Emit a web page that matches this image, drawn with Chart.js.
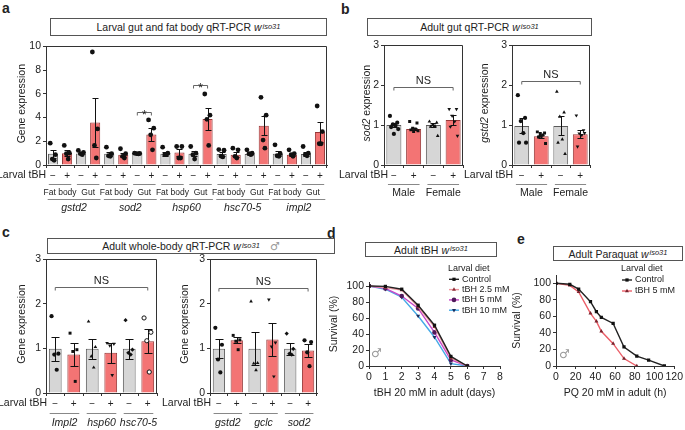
<!DOCTYPE html>
<html>
<head>
<meta charset="utf-8">
<script src="https://cdn.jsdelivr.net/npm/chart.js@4.4.1/dist/chart.umd.min.js"></script>
<style>
  body { margin: 0; background: #fff; }
  #fig { position: relative; width: 685px; height: 430px; overflow: hidden;
         font-family: "Liberation Sans", Arial, sans-serif; color: #222; }
  #fig canvas { position: absolute; }
  .lab { position: absolute; font-weight: bold; font-size: 14px; line-height: 14px; }
  .tbox { position: absolute; box-sizing: border-box; border: 1px solid #555; font-size: 10.5px;
          display: flex; align-items: center; justify-content: center; white-space: nowrap; }
  .tbox sup { font-size: 7.5px; font-style: italic; position: relative; top: -1px; margin-left: 1px; }
  .male { position: absolute; color: #999; font-family: "DejaVu Sans"; font-size: 12px; line-height: 12px; }
</style>
</head>
<body>
<div id="fig">
  <div class="lab" style="left:2px;top:1px">a</div>
  <div class="lab" style="left:341px;top:2px">b</div>
  <div class="lab" style="left:2px;top:225px">c</div>
  <div class="lab" style="left:327px;top:226px">d</div>
  <div class="lab" style="left:517px;top:232px">e</div>

  <div class="tbox" style="left:50px;top:18px;width:277px;height:18px">Larval gut and fat body qRT-PCR&nbsp;<i>w</i><sup>iso31</sup></div>
  <div class="tbox" style="left:367px;top:18px;width:225px;height:18px">Adult gut qRT-PCR&nbsp;<i>w</i><sup>iso31</sup></div>
  <div class="tbox" style="left:47px;top:238px;width:288px;height:16px">Adult whole-body qRT-PCR&nbsp;<i>w</i><sup>iso31</sup><span style="color:#999;font-family:'DejaVu Sans';font-size:11px;margin-left:10px">♂</span></div>
  <div class="tbox" style="left:365px;top:242px;width:132px;height:15px">Adult tBH&nbsp;<i>w</i><sup>iso31</sup></div>
  <div class="tbox" style="left:553px;top:246px;width:130px;height:15px">Adult Paraquat&nbsp;<i>w</i><sup>iso31</sup></div>

  <canvas id="ca" width="335" height="178" style="left:0;top:38px"></canvas>
  <canvas id="cb1" width="135" height="170" style="left:332px;top:37px"></canvas>
  <canvas id="cb2" width="140" height="170" style="left:455px;top:37px"></canvas>
  <canvas id="cc1" width="165" height="180" style="left:0;top:250px"></canvas>
  <canvas id="cc2" width="170" height="180" style="left:155px;top:250px"></canvas>
  <canvas id="ce" width="180" height="140" style="left:505px;top:262px"></canvas>
  <canvas id="cd" width="200" height="140" style="left:322px;top:262px"></canvas>

  <div class="male" style="left:371px;top:347px">♂</div>
  <div class="male" style="left:559px;top:348px">♂</div>
</div>

<script>
// ---------- panel a: larval gut / fat body ----------
const aGenes = ['gstd2', 'sod2', 'hsp60', 'hsc70-5', 'impl2'];
const aTissues = ['Fat body', 'Gut'];
const aTbh = ['−', '+', '−', '+', '−', '+', '−', '+', '−', '+', '−', '+', '−', '+', '−', '+', '−', '+', '−', '+'];
const aMeans = [0.95, 1.0, 0.97, 3.58, 0.95, 0.87, 0.97, 2.57, 0.95, 1.06, 0.95, 3.88, 0.92, 0.87, 0.92, 3.3, 0.95, 0.87, 0.92, 2.77];
const aSem = [0.33, 0.25, 0.06, 2.1, 0.18, 0.17, 0.03, 0.52, 0.16, 0.27, 0.2, 0.93, 0.16, 0.2, 0.08, 0.8, 0.2, 0.12, 0.17, 0.85];
const aDots = [
  [1.84, 0.87, 0.5, 0.4], [1.65, 1.0, 0.95, 0.5], [1.23, 1.06, 0.95, 0.87], [9.52, 3.04, 1.65, 0.59],
  [1.5, 0.95, 0.78, 0.73], [1.37, 0.95, 0.73, 0.59], [1.0, 0.97, 0.95, 0.93], [3.8, 3.1, 2.54, 1.28],
  [1.5, 1.0, 0.87, 0.87], [1.56, 1.56, 0.59, 0.59], [1.56, 1.0, 0.87, 0.5], [5.98, 4.2, 3.85, 1.65],
  [1.3, 1.25, 0.75, 0.68], [1.42, 1.28, 0.73, 0.59], [1.28, 1.0, 0.95, 0.87], [5.7, 4.2, 2.1, 1.42],
  [1.7, 0.95, 0.78, 0.73], [1.28, 0.95, 0.87, 0.73], [1.56, 1.0, 0.87, 0.78], [4.97, 2.82, 1.79, 1.79]
];

// ---------- panel b: adult gut ----------
const bSexes = ['Male', 'Female'];
const bTbh = ['−', '+', '−', '+'];
const bSod2Means = [1.0, 0.9, 1.0, 1.13];
const bSod2Sem = [0.06, 0.03, 0.05, 0.12];
const bSod2Dots = [
  [1.23, 1.06, 1.02, 0.98, 0.95, 0.9, 0.78],
  [1.09, 1.05, 0.92, 0.9, 0.88, 0.86, 0.84],
  [1.09, 1.06, 1.0, 0.98, 0.96, 0.73],
  [1.4, 1.4, 1.23, 1.09, 0.96, 0.73]
];
const bGstd2Means = [0.98, 0.72, 0.98, 0.77];
const bGstd2Sem = [0.19, 0.04, 0.24, 0.1];
const bGstd2Dots = [
  [1.75, 1.18, 1.1, 0.8, 0.56, 0.56],
  [0.83, 0.8, 0.79, 0.75, 0.7, 0.54, 0.72],
  [1.84, 1.32, 1.21, 0.64, 0.56, 0.28],
  [1.24, 0.87, 0.79, 0.75, 0.46, 0.8]
];

// ---------- panel c: adult whole body ----------
const cTbh = ['−', '+', '−', '+', '−', '+'];
const c1Genes = ['Impl2', 'hsp60', 'hsc70-5'];
const c1Means = [0.99, 0.86, 0.99, 0.9, 0.99, 1.16];
const c1Sem = [0.27, 0.25, 0.23, 0.22, 0.23, 0.27];
const c1Dots = [
  [1.72, 0.88, 0.86, 0.52], [1.34, 0.97, 0.93, 0.26], [1.6, 1.03, 0.82, 0.57],
  [1.12, 1.1, 1.06, 0.4], [1.63, 0.97, 0.9, 0.86], [1.68, 1.36, 1.17, 0.47]
];
const c2Genes = ['gstd2', 'gclc', 'sod2'];
const c2Means = [0.99, 1.18, 0.99, 1.2, 0.99, 0.95];
const c2Sem = [0.21, 0.07, 0.37, 0.37, 0.13, 0.15];
const c2Dots = [
  [1.46, 1.08, 0.75, 0.46], [1.29, 1.19, 1.16, 0.97], [2.05, 0.67, 0.66, 0.51],
  [2.09, 1.13, 1.04, 0.37], [1.33, 0.99, 0.88, 0.86], [1.18, 1.14, 0.91, 0.6]
];

// ---------- panel d: adult tBH survival ----------
const dDays = [0, 1, 2, 3, 4, 5, 6];
const dControl = [100, 99.5, 96, 76, 51, 12, 0];
const dTbh25 = [100, 98, 95, 74, 49, 10, 0];
const dTbh5 = [100, 97, 87.5, 72, 42, 7.5, 0];
const dTbh10 = [100, 96, 86, 62.5, 36, 3, 0];

// ---------- panel e: adult paraquat survival ----------
const eControlH = [0, 14, 23, 35, 41, 46, 58, 69, 82, 94, 110];
const eControl = [100, 98.8, 93, 77.7, 65.6, 58.7, 51.4, 23, 12, 7, 0];
const eTbhH = [0, 14, 23, 35, 41, 46, 58, 69, 82];
const eTbh5 = [100, 97.5, 89.5, 63.6, 54, 42, 27, 9, 0];

// ---------- common styling ----------
const FONT = '"Liberation Sans", Arial, sans-serif';
Chart.defaults.font.family = FONT;
Chart.defaults.font.size = 10.5;
Chart.defaults.color = '#222';

const GREY = 'rgb(214,214,214)', RED = 'rgb(243,116,116)';
const GREY_LINE = 'rgb(90,90,90)', RED_LINE = 'rgb(150,55,55)';
const AX = '#333';
const MARKS = [
  { style: 'circle' }, { style: 'rect' }, { style: 'triangle' },
  { style: 'triangle', rot: 180 }, { style: 'rectRot' }, { style: 'circle', open: true }
];
const jit = [-0.2, 0.17, -0.05, 0.08, -0.14, 0.22, 0.0]; // horizontal spread of dots inside a bar

function barPanel(id, p) {
  const n = p.labels.length;
  // bars and dots share one linear x axis (bar i sits at x = i)
  const datasets = [{
    type: 'bar', order: 2, grouped: false,
    data: p.means.map((m, i) => ({ x: i, y: m })),
    backgroundColor: p.labels.map(l => l === '+' ? RED : GREY),
    borderColor: p.labels.map(l => l === '+' ? RED_LINE : GREY_LINE),
    borderWidth: 1, barPercentage: p.barPct, categoryPercentage: 1
  }];
  p.dots.forEach((vals, i) => {
    const m = MARKS[p.marks ? p.marks[i] : 0];
    datasets.push({
      type: 'scatter', order: 1,
      data: vals.map((v, k) => ({ x: i + jit[k % jit.length] * p.spread, y: v })),
      pointStyle: m.style, pointRotation: m.rot || 0, pointRadius: p.r,
      pointBackgroundColor: m.open ? '#fff' : '#111', pointBorderColor: '#111',
      pointBorderWidth: m.open ? 1 : 0
    });
  });

  const deco = {
    id: 'deco',
    afterDatasetDraw(chart, args) {
      if (args.index !== 0) return;
      // error bars (mean ± sem)
      const { ctx, scales: { x, y } } = chart;
      ctx.save();
      ctx.strokeStyle = '#111';
      ctx.lineWidth = 1;
      ctx.beginPath();
      p.means.forEach((m, i) => {
        const cx = Math.round(x.getPixelForValue(i)) + 0.5;
        const t = Math.round(y.getPixelForValue(m + p.sem[i])) + 0.5;
        const b = Math.round(y.getPixelForValue(Math.max(m - p.sem[i], 0))) + 0.5;
        ctx.moveTo(cx, t); ctx.lineTo(cx, b);
        ctx.moveTo(cx - p.cap, t); ctx.lineTo(cx + p.cap, t);
        ctx.moveTo(cx - p.cap, b); ctx.lineTo(cx + p.cap, b);
      });
      ctx.stroke();
      ctx.restore();
    },
    afterDraw(chart) {
      const { ctx, chartArea: ca, scales: { x, y } } = chart;
      const step = x.getPixelForValue(1) - x.getPixelForValue(0);
      ctx.save();
      // top and right side of the frame
      const T = Math.round(ca.top) + 0.5, R = Math.round(ca.right) - 0.5;
      ctx.strokeStyle = AX;
      ctx.lineWidth = 1;
      ctx.beginPath();
      ctx.moveTo(ca.left, T); ctx.lineTo(R, T); ctx.lineTo(R, ca.bottom);
      ctx.stroke();
      // significance brackets
      p.brackets.forEach(br => {
        const x1 = x.getPixelForValue(br.a), x2 = x.getPixelForValue(br.b);
        const yy = Math.round(y.getPixelForValue(br.v)) + 0.5;
        ctx.strokeStyle = '#666';
        ctx.beginPath();
        ctx.moveTo(x1, yy + 3); ctx.lineTo(x1, yy); ctx.lineTo(x2, yy); ctx.lineTo(x2, yy + 3);
        ctx.stroke();
        ctx.fillStyle = '#222';
        ctx.font = br.size + 'px ' + FONT;
        ctx.textAlign = 'center';
        ctx.textBaseline = 'alphabetic';
        ctx.fillText(br.t, (x1 + x2) / 2, yy + br.dy);
      });
      // grouping rows under the x axis
      p.rows.forEach(row => {
        row.items.forEach(it => {
          const x1 = x.getPixelForValue(it.a) - row.w * step;
          const x2 = x.getPixelForValue(it.b) + row.w * step;
          const ly = Math.round(ca.bottom + row.dy) + 0.5;
          ctx.strokeStyle = '#888';
          ctx.beginPath(); ctx.moveTo(x1, ly); ctx.lineTo(x2, ly); ctx.stroke();
          ctx.fillStyle = '#222';
          ctx.font = (row.it ? 'italic ' : '') + row.size + 'px ' + FONT;
          ctx.textAlign = 'center';
          ctx.textBaseline = 'middle';
          ctx.fillText(it.t, (x1 + x2) / 2, ca.bottom + row.ty);
        });
      });
      // row title
      ctx.fillStyle = '#222';
      ctx.font = '10.5px ' + FONT;
      ctx.textAlign = 'right';
      ctx.textBaseline = 'top';
      ctx.fillText('Larval tBH', ca.left + p.tbhX, ca.bottom + 5);
      // y axis title (mixed italic / upright)
      ctx.translate(p.titleX, (ca.top + ca.bottom) / 2 - 2);
      ctx.rotate(-Math.PI / 2);
      let total = 0;
      p.yTitle.forEach(([t, it]) => {
        ctx.font = (it ? 'italic ' : '') + '10.5px ' + FONT;
        total += ctx.measureText(t).width;
      });
      let xx = -total / 2;
      ctx.textAlign = 'left';
      ctx.textBaseline = 'middle';
      p.yTitle.forEach(([t, it]) => {
        ctx.font = (it ? 'italic ' : '') + '10.5px ' + FONT;
        ctx.fillText(t, xx, 0);
        xx += ctx.measureText(t).width;
      });
      ctx.restore();
    }
  };

  return new Chart(document.getElementById(id), {
    type: 'bar',
    data: { datasets: datasets },
    options: {
      responsive: false,
      animation: false,
      devicePixelRatio: 1,
      layout: { padding: { left: 0, right: p.right, top: p.top, bottom: 0 } },
      plugins: { legend: { display: false }, tooltip: { enabled: false } },
      scales: {
        x: {
          type: 'linear', min: -0.5, max: n - 0.5, offset: false,
          afterBuildTicks: a => { a.ticks = p.labels.map((l, i) => ({ value: i })); },
          grid: { drawOnChartArea: false, tickLength: 3, color: AX },
          border: { color: AX },
          ticks: { padding: 2, autoSkip: false, maxRotation: 0, font: { size: 10 },
                   callback: v => p.labels[v] },
          afterFit: a => { a.height = p.bottom; }
        },
        y: {
          min: 0, max: p.yMax,
          ticks: { stepSize: p.yStep, padding: 2 },
          grid: { drawOnChartArea: false, tickLength: 3, color: AX },
          border: { color: AX },
          afterFit: a => { a.width = p.left; }
        }
      }
    },
    plugins: [deco]
  });
}

// panel a
const aPairs = [], aGeneItems = [];
aGenes.forEach((g, gi) => {
  aGeneItems.push({ a: gi * 4, b: gi * 4 + 3, t: g });
  aTissues.forEach((t, ti) => aPairs.push({ a: gi * 4 + ti * 2, b: gi * 4 + ti * 2 + 1, t: t }));
});
barPanel('ca', {
  labels: aTbh, means: aMeans, sem: aSem, dots: aDots,
  yMax: 10, yStep: 2, barPct: 0.72, r: 2.4, spread: 1, cap: 3,
  left: 46, right: 8, top: 8, bottom: 51, tbhX: 0, titleX: 22,
  yTitle: [['Gene expression', false]],
  brackets: [{ a: 6, b: 7, v: 4.5, t: '*', size: 12, dy: 6 }, { a: 10, b: 11, v: 6.7, t: '*', size: 12, dy: 6 }],
  rows: [
    { dy: 19, ty: 27.5, size: 8.5, w: 0.3, items: aPairs },
    { dy: 34, ty: 43, size: 10.5, it: true, w: 0.38, items: aGeneItems }
  ]
});

// panel b
const bItems = bSexes.map((s, i) => ({ a: i * 2, b: i * 2 + 1, t: s }));
barPanel('cb1', {
  labels: bTbh, means: bSod2Means, sem: bSod2Sem, dots: bSod2Dots, marks: [0, 1, 2, 3],
  yMax: 3, yStep: 1, barPct: 0.76, r: 2.1, spread: 1, cap: 3,
  left: 52, right: 4, top: 8, bottom: 42, tbhX: 4, titleX: 35,
  yTitle: [['sod2', true], [' expression', false]],
  brackets: [{ a: 0, b: 3, v: 1.95, t: 'NS', size: 11, dy: -4 }],
  rows: [{ dy: 19, ty: 28, size: 10.5, w: 0.3, items: bItems }]
});
barPanel('cb2', {
  labels: bTbh, means: bGstd2Means, sem: bGstd2Sem, dots: bGstd2Dots, marks: [0, 1, 2, 3],
  yMax: 3, yStep: 1, barPct: 0.76, r: 2.1, spread: 1, cap: 3,
  left: 57, right: 5, top: 8, bottom: 42, tbhX: 1, titleX: 30,
  yTitle: [['gstd2', true], [' expression', false]],
  brackets: [{ a: 0, b: 3, v: 2.1, t: 'NS', size: 11, dy: -4 }],
  rows: [{ dy: 19, ty: 28, size: 10.5, w: 0.3, items: bItems }]
});

// panel c
barPanel('cc1', {
  labels: cTbh, means: c1Means, sem: c1Sem, dots: c1Dots, marks: [0, 1, 2, 3, 4, 5],
  yMax: 3, yStep: 1, barPct: 0.69, r: 2.1, spread: 1, cap: 4,
  left: 46, right: 8, top: 9, bottom: 37, tbhX: 1, titleX: 22,
  yTitle: [['Gene expression', false]],
  brackets: [{ a: 0, b: 5, v: 2.37, t: 'NS', size: 11, dy: -4 }],
  rows: [{ dy: 20, ty: 30, size: 10.5, it: true, w: 0.3, items: c1Genes.map((g, i) => ({ a: i * 2, b: i * 2 + 1, t: g })) }]
});
barPanel('cc2', {
  labels: cTbh, means: c2Means, sem: c2Sem, dots: c2Dots, marks: [0, 1, 2, 3, 4, 0],
  yMax: 3, yStep: 1, barPct: 0.69, r: 2.1, spread: 1, cap: 4,
  left: 55, right: 8, top: 9, bottom: 37, tbhX: 1, titleX: 30,
  yTitle: [['Gene expression', false]],
  brackets: [{ a: 0, b: 5, v: 2.34, t: 'NS', size: 11, dy: -4 }],
  rows: [{ dy: 20, ty: 30, size: 10.5, it: true, w: 0.3, items: c2Genes.map((g, i) => ({ a: i * 2, b: i * 2 + 1, t: g })) }]
});

// ---------- survival curves ----------
function series(label, xs, ys, line, mark, style, rot) {
  return {
    label: label,
    data: xs.map((x, i) => ({ x: x, y: ys[i] })),
    borderColor: line, borderWidth: 1.4, tension: 0,
    pointStyle: style, pointRotation: rot || 0, pointRadius: 2.3,
    pointBackgroundColor: mark, pointBorderWidth: 0
  };
}

function legendPlugin(lx, ly, rowH) {
  return {
    id: 'leg',
    afterDraw(chart) {
      const ctx = chart.ctx;
      ctx.save();
      ctx.font = '9px ' + FONT;
      ctx.fillStyle = '#222';
      ctx.textAlign = 'left';
      ctx.textBaseline = 'middle';
      ctx.fillText('Larval diet', lx - 1, ly);
      chart.data.datasets.forEach((d, i) => {
        const yy = ly + rowH * (i + 1);
        ctx.strokeStyle = d.borderColor;
        ctx.lineWidth = d.borderWidth;
        ctx.beginPath(); ctx.moveTo(lx, yy); ctx.lineTo(lx + 10, yy); ctx.stroke();
        ctx.fillStyle = d.pointBackgroundColor;
        Chart.helpers.drawPoint(ctx, { pointStyle: d.pointStyle, radius: d.pointRadius, rotation: d.pointRotation, borderWidth: 0 }, lx + 5, yy);
        ctx.fillStyle = '#222';
        ctx.fillText(d.label, lx + 13, yy);
      });
      ctx.restore();
    }
  };
}

function survivalOptions(xMax, xStep, yMax, xTitle, top, left, right) {
  return {
    responsive: false,
    animation: false,
    devicePixelRatio: 1,
    layout: { padding: { left: 0, right: right, top: top, bottom: 0 } },
    plugins: { legend: { display: false }, tooltip: { enabled: false } },
    scales: {
      x: {
        type: 'linear', min: 0, max: xMax,
        ticks: { stepSize: xStep, padding: 2, autoSkip: false, maxRotation: 0 },
        grid: { drawOnChartArea: false, tickLength: 3, color: AX },
        border: { color: AX },
        title: { display: true, text: xTitle, padding: { top: 0, bottom: 3 } },
        afterFit: a => { a.height = 36; }
      },
      y: {
        min: 0, max: yMax,
        ticks: { stepSize: 20, includeBounds: false, padding: 2 },
        grid: { drawOnChartArea: false, tickLength: 3, color: AX },
        border: { color: AX },
        title: { display: true, text: 'Survival (%)', padding: { top: 6, bottom: 0 } },
        afterFit: a => { a.width = left; }
      }
    }
  };
}

new Chart(document.getElementById('cd'), {
  type: 'line',
  data: {
    datasets: [
      series('Control', dDays, dControl, '#222', '#111', 'rect'),
      series('tBH 2.5 mM', dDays, dTbh25, 'rgb(236,150,160)', 'rgb(140,45,55)', 'triangle'),
      series('tBH 5 mM', dDays, dTbh5, 'rgb(200,70,200)', 'rgb(80,25,90)', 'circle'),
      series('tBH 10 mM', dDays, dTbh10, 'rgb(70,170,230)', 'rgb(25,45,95)', 'triangle', 180)
    ]
  },
  options: survivalOptions(8, 1, 105, 'tBH 20 mM in adult (days)', 20, 47, 22),
  plugins: [legendPlugin(127, 7, 10.3)]
});

new Chart(document.getElementById('ce'), {
  type: 'line',
  data: {
    datasets: [
      series('Control', eControlH, eControl, '#222', '#111', 'rect'),
      series('tBH 5 mM', eTbhH, eTbh5, 'rgb(235,95,105)', 'rgb(120,35,45)', 'triangle')
    ]
  },
  options: survivalOptions(120, 20, 110, 'PQ 20 mM in adult (h)', 13, 51, 8),
  plugins: [legendPlugin(117, 7, 11)]
});
</script>
</body>
</html>
